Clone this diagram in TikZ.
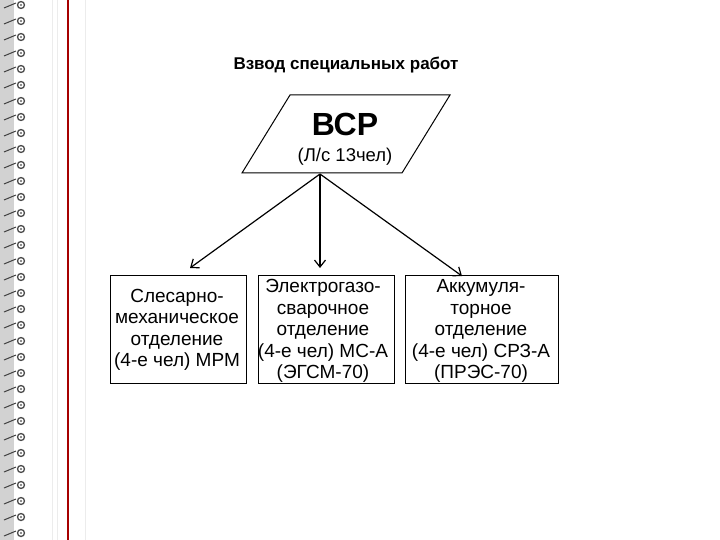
\documentclass[tikz,border=0pt]{standalone}
\usepackage{fontspec}
\setmainfont{Liberation Sans}
\usetikzlibrary{arrows.meta}
\begin{document}
\begin{tikzpicture}[x=1pt,y=-1pt,
  box/.style={draw,line width=1pt,fill=white},
  lbl/.style={align=center,inner sep=0pt,font=\fontsize{19}{21.5}\selectfont},
  arr/.style={-{Straight Barb[length=7pt,width=11pt]},line width=1.2pt}]
\useasboundingbox (0,0) rectangle (720,540);
\fill[white] (0,0) rectangle (720,540);
% binding strip
\fill[gray!35] (0,0) rectangle (14,540);
\foreach \y in {0,16,...,540}{
  \draw[black!75,line width=1pt] (4,\y+8) -- (16,\y+3);
  \draw[black!70,line width=1.3pt] (21,\y+5) circle (3.5);
  \fill[black!60] (21,\y+5) circle (1.2);
}
\draw[gray!15,line width=1pt] (52,0) -- (52,540);
\draw[gray!15,line width=1pt] (57,0) -- (57,540);
\draw[red!65!black,line width=1.6pt] (68,0) -- (68,540);
\draw[gray!15,line width=1pt] (85,0) -- (85,540);
% title
\node[font=\bfseries\fontsize{17}{19}\selectfont] (title) at (346,65) {Взвод специальных работ};
% parallelogram
\draw[box] (290,95) -- (450,95) -- (402,173) -- (242,173) -- cycle;
\coordinate (top) at (320,174);
\node[font=\bfseries\fontsize{32}{34}\selectfont] (vsr) at (345,124) {ВСР};
\node[font=\fontsize{18.5}{20}\selectfont] (ls) at (345,157) {(Л/с 13чел)};
% boxes
\draw[box] (110,275) rectangle (246,383);
\draw[box] (258,275) rectangle (394,383);
\draw[box] (405,275) rectangle (558,383);
\node[lbl] (b1) at (177,330) {Слесарно-\\механическое\\отделение\\(4-е чел) МРМ};
\node[lbl] (b2) at (323,331) {Электрогазо-\\сварочное\\отделение\\(4-е чел) МС-А\\(ЭГСМ-70)};
\node[lbl] (b3) at (481,331) {Аккумуля-\\торное\\отделение\\(4-е чел) СРЗ-А\\(ПРЭС-70)};
\coordinate (e1) at (190,268);
\coordinate (e2) at (320,268);
\coordinate (e3) at (462,276);
\draw[arr] (top) -- (e1);
\draw[arr] (top) -- (e2);
\draw[arr] (top) -- (e3);
\end{tikzpicture}
\end{document}
